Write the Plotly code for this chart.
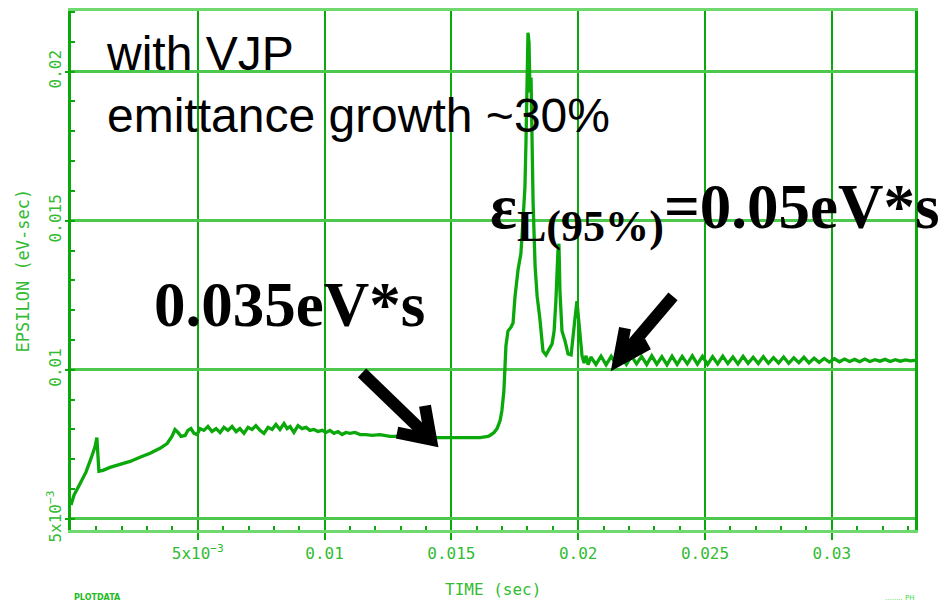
import numpy as np
import plotly.graph_objects as go

# ---------------- data (time in s, emittance in eV-s) ----------------
time_start = [0.0, 0.00012, 0.00035, 0.00059, 0.00079, 0.00095, 0.00102, 0.00106, 0.0011,
              0.00126, 0.00154, 0.00193, 0.00233, 0.00272, 0.00312, 0.00351, 0.00379,
              0.00398, 0.0041, 0.00422, 0.00434, 0.0045, 0.00461, 0.00473, 0.00485,
              0.00497, 0.00509]
eps_start = [0.00547, 0.0058, 0.00617, 0.00657, 0.00703, 0.00743, 0.00773, 0.00713, 0.0066,
             0.00663, 0.00673, 0.00683, 0.00693, 0.00707, 0.0072, 0.00737, 0.00753,
             0.00777, 0.008, 0.0079, 0.00777, 0.0078, 0.00797, 0.00803, 0.00787,
             0.00783, 0.00803]

time_plateau = [0.00524, 0.0054, 0.00556, 0.00572, 0.00588, 0.00603, 0.00619, 0.00635,
                0.00651, 0.00666, 0.00682, 0.00698, 0.00714, 0.00729, 0.00745, 0.00761,
                0.00777, 0.00793, 0.00808, 0.00824, 0.0084, 0.00852, 0.00864, 0.00879,
                0.00895, 0.00911, 0.00927, 0.00942, 0.00958, 0.00974, 0.0099, 0.01006,
                0.01021, 0.01037, 0.01053, 0.01069, 0.01084, 0.011, 0.0112, 0.0114,
                0.01163, 0.01187, 0.01218, 0.01258, 0.01297, 0.01376, 0.01455, 0.01534,
                0.01613, 0.01644]
eps_plateau = [0.00797, 0.0081, 0.00793, 0.00803, 0.0079, 0.00807, 0.00797, 0.0081,
               0.00793, 0.00803, 0.00787, 0.00807, 0.008, 0.00813, 0.00797, 0.00787,
               0.00807, 0.008, 0.00817, 0.008, 0.0082, 0.00803, 0.0081, 0.0079,
               0.00813, 0.00803, 0.00807, 0.00797, 0.008, 0.00793, 0.00797, 0.0079,
               0.00797, 0.00787, 0.00793, 0.00783, 0.0079, 0.00787, 0.0079, 0.00783,
               0.00783, 0.0078, 0.00783, 0.00777, 0.00777, 0.00773, 0.00773, 0.00773,
               0.00773, 0.00777]

time_peaks = [0.01652, 0.01668, 0.0168, 0.01692, 0.01699, 0.01707, 0.01711, 0.01715,
              0.01723, 0.01735, 0.01743, 0.01751, 0.01763, 0.01774, 0.01782, 0.0179,
              0.01794, 0.01798, 0.01802, 0.01806, 0.0181, 0.01814, 0.01818, 0.01822,
              0.0183, 0.01838, 0.01849, 0.01861, 0.01873, 0.01885, 0.01897, 0.01905,
              0.01912, 0.0192, 0.01924, 0.01928, 0.01936, 0.01948, 0.0196, 0.01972,
              0.01979, 0.01987, 0.01995, 0.01999, 0.02007, 0.02015, 0.02023, 0.02031,
              0.02039]
eps_peaks = [0.0078, 0.0079, 0.00803, 0.0083, 0.00863, 0.0093, 0.01003, 0.0108,
             0.0113, 0.01143, 0.01157, 0.01247, 0.01337, 0.0139, 0.01497, 0.01613,
             0.01763, 0.01963, 0.0213, 0.02097, 0.0193, 0.0198, 0.01763, 0.01563,
             0.01347, 0.01247, 0.0117, 0.01063, 0.0105, 0.0107, 0.01087, 0.0113,
             0.0123, 0.01397, 0.01423, 0.01263, 0.0113, 0.01097, 0.01053, 0.0105,
             0.01097, 0.0117, 0.0123, 0.01197, 0.01113, 0.01047, 0.01023, 0.01047,
             0.01017]

time_tail = [0.0205, 0.0207, 0.0209, 0.0211, 0.0213, 0.0215, 0.0217, 0.0219, 0.0221,
             0.0223, 0.0225, 0.0227, 0.0229, 0.0231, 0.0233, 0.0235, 0.0237, 0.0239,
             0.0241, 0.0243, 0.0245, 0.0247, 0.0249, 0.0251, 0.0253, 0.0255, 0.0257,
             0.0259, 0.0261, 0.0263, 0.0265, 0.0267, 0.0269, 0.0271, 0.0273, 0.0275,
             0.0277, 0.0279, 0.0281, 0.0283, 0.0285, 0.0287, 0.0289, 0.0291, 0.0293,
             0.0295, 0.0297, 0.0299, 0.0301, 0.0303, 0.0305, 0.0307, 0.0309, 0.0311,
             0.0313, 0.0315, 0.0317, 0.0319, 0.0321, 0.0323, 0.0325, 0.0327, 0.0329,
             0.0331, 0.0333]
eps_tail = [0.01043, 0.01018, 0.01046, 0.01017, 0.01045, 0.01019, 0.01044, 0.01018, 0.01046,
            0.0102, 0.01045, 0.01018, 0.01047, 0.01019, 0.01044, 0.01017, 0.01046, 0.01018,
            0.01045, 0.0102, 0.01047, 0.01019, 0.01045, 0.01018, 0.01044, 0.0102, 0.01046,
            0.01021, 0.01043, 0.0102, 0.01045, 0.01022, 0.01042, 0.01021, 0.01044, 0.01022,
            0.01041, 0.01023, 0.01043, 0.01022, 0.0104, 0.01024, 0.01042, 0.01023, 0.01039,
            0.01025, 0.01038, 0.01026, 0.01037, 0.01027, 0.01036, 0.01028, 0.01035, 0.01027,
            0.01036, 0.01028, 0.01034, 0.01029, 0.01035, 0.01028, 0.01034, 0.01029, 0.01033,
            0.0103, 0.01032]

x_tick_vals = [0.005, 0.01, 0.015, 0.02, 0.025, 0.03]
x_tick_text = ["5x10<sup>−3</sup>", "0.01", "0.015", "0.02", "0.025", "0.03"]
y_tick_vals = [0.005, 0.01, 0.015, 0.02]
y_tick_text = ["5x10<sup>−3</sup>", "0.01", "0.015", "0.02"]

time = time_start + time_plateau + time_peaks + time_tail
eps = eps_start + eps_plateau + eps_peaks + eps_tail

# ---------------- layout geometry ----------------
# the page body has an 8px default margin, so the figure starts at (8, 8)
OFF = 8
W, H = 951 - OFF, 604 - OFF
L, R, T, B = 71, 915, 8, 530   # plot area in page pixels


def px(xp):
    return (xp - L) / (R - L)


def py(yp):
    return (B - yp) / (B - T)


GREEN = "#0aa80a"
LIGHT = "#6fd86f"
LABEL = "#33bb33"

fig = go.Figure()
fig.add_trace(go.Scatter(x=time, y=eps, mode="lines",
                         line=dict(color=GREEN, width=3.3), hoverinfo="skip"))

tickfont = dict(family="DejaVu Sans Mono", size=16, color=LABEL)

fig.update_layout(
    width=W, height=H,
    margin=dict(l=L - OFF, r=(951 - R), t=T - OFF, b=(604 - B)),
    paper_bgcolor="white", plot_bgcolor="white",
    showlegend=False,
    xaxis=dict(range=[0, 0.03328], tickmode="array", tickvals=x_tick_vals,
               ticktext=x_tick_text, tickfont=tickfont,
               showgrid=True, gridcolor=GREEN, gridwidth=1.5,
               showline=True, linecolor=LIGHT, linewidth=3, mirror=True,
               ticks="outside", ticklen=7, tickwidth=2, tickcolor=GREEN,
               zeroline=False,
               minor=dict(tickmode="array",
                          tickvals=[round(v, 4) for v in np.arange(0.001, 0.0333, 0.001)],
                          ticks="inside", ticklen=4, tickwidth=1.5, tickcolor=GREEN,
                          showgrid=False)),
    yaxis=dict(range=[0.00463, 0.02203], tickmode="array", tickvals=y_tick_vals,
               ticktext=y_tick_text, tickfont=tickfont, tickangle=-90,
               ticklabelstandoff=-2,
               showgrid=True, gridcolor="#4cc84c", gridwidth=2.5,
               showline=True, linecolor=GREEN, linewidth=3, mirror=True,
               ticks="outside", ticklen=3, tickwidth=2, tickcolor=GREEN,
               zeroline=False,
               minor=dict(tickmode="array",
                          tickvals=[round(v, 4) for v in np.arange(0.005, 0.0221, 0.001)],
                          ticks="inside", ticklen=4, tickwidth=1.5, tickcolor=GREEN,
                          showgrid=False)),
)

ann = []
# axis titles
ann.append(dict(x=px(22), y=py(269), xref="paper", yref="paper", text="EPSILON (eV-sec)",
                textangle=-90, xanchor="center", yanchor="middle", showarrow=False,
                font=dict(family="DejaVu Sans Mono", size=17, color=LABEL)))
ann.append(dict(x=px(493), y=py(590), xref="paper", yref="paper", text="TIME (sec)",
                xanchor="center", yanchor="middle", showarrow=False,
                font=dict(family="DejaVu Sans Mono", size=16, color=LABEL)))
ann.append(dict(x=px(72), y=py(598), xref="paper", yref="paper", text="<b>PLOTDATA</b>",
                xanchor="left", yanchor="middle", showarrow=False,
                font=dict(family="DejaVu Sans", size=8, color="#22bb22")))
ann.append(dict(x=px(917), y=py(598), xref="paper", yref="paper", text="........ PH",
                xanchor="right", yanchor="middle", showarrow=False,
                font=dict(family="DejaVu Sans", size=7, color="#44dd44")))
# text annotations
ann.append(dict(x=px(104), y=py(22), xref="paper", yref="paper",
                text="with VJP<br>emittance growth ~30%", align="left",
                xanchor="left", yanchor="top", showarrow=False,
                font=dict(family="Liberation Sans", size=48, color="black")))
ann.append(dict(x=px(152), y=py(304), xref="paper", yref="paper",
                text="<b>0.035eV*s</b>", xanchor="left", yanchor="middle", showarrow=False,
                font=dict(family="Liberation Serif", size=63, color="black")))
ann.append(dict(x=px(488), y=py(210), xref="paper", yref="paper",
                text="<b>ε<sub>L(95%)</sub>=0.05eV*s</b>", xanchor="left", yanchor="middle",
                showarrow=False,
                font=dict(family="Liberation Serif", size=63, color="black")))
fig.update_layout(annotations=ann)


def arrow_path(tail, tip, w1, w2):
    p = lambda q: f"{px(q[0]):.5f},{py(q[1]):.5f}"
    return (f"M{p(tail)} L{p(tip)}", f"M{p(w1)} L{p(tip)} L{p(w2)}")


shapes = []
for tail, tip, w1, w2 in [((362, 372), (431, 439), (397, 432), (425, 405)),
                          ((673, 295), (619, 359), (625, 327), (648, 343))]:
    s1, s2 = arrow_path(tail, tip, w1, w2)
    for s in (s1, s2):
        shapes.append(dict(type="path", path=s, xref="paper", yref="paper",
                           line=dict(color="black", width=12)))
fig.update_layout(shapes=shapes)

fig.write_html("out.html")
